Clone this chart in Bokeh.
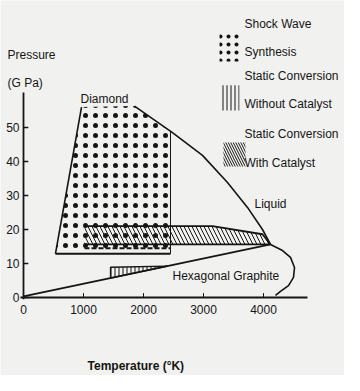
from bokeh.plotting import figure
from bokeh.models import Range1d
from bokeh.core.properties import value
from bokeh.embed import file_html
from bokeh.resources import INLINE

# ---------------- data (Temperature in K, Pressure in GPa) ----------------
temp_ticks = [0, 1000, 2000, 3000, 4000]
temp_tick_labels = ["0", "1000", "2000", "3000", "4000"]
pres_ticks = [0, 10, 20, 30, 40, 50]
pres_tick_labels = ["0", "10", "20", "30", "40", "50"]

# shock wave synthesis region (dotted)
shock_T = [533, 967, 1850, 2450, 2450]
shock_P = [12.9, 56.0, 56.3, 48.9, 12.9]

# static conversion with catalyst (diagonal hatch)
cat_T = [1017, 1017, 3150, 3983, 4117]
cat_P = [15.6, 21.0, 21.0, 18.6, 15.6]

# static conversion without catalyst (vertical hatch)
nocat_T = [1450, 1450, 2400]
nocat_P = [5.7, 8.9, 9.2]

# diamond / liquid boundary
dl_T = [1850, 2483, 2983, 3400, 3733, 3983, 4117]
dl_P = [56.3, 48.5, 41.8, 33.8, 26.5, 20.0, 15.6]

# graphite / diamond boundary
gd_T = [0, 4117]
gd_P = [0.3, 15.6]

# graphite / liquid boundary
gl_T = [4117, 4317, 4450, 4517, 4500, 4417, 4283, 4200]
gl_P = [15.6, 13.8, 11.8, 8.8, 5.9, 3.5, 1.8, 0.6]

legend_labels = ["Shock Wave", "Synthesis", "Static  Conversion",
                 "Without  Catalyst", "Static  Conversion", "With  Catalyst"]

# ---------------- layout constants ----------------
T_MIN, T_MAX = -383.3, 5350
P_MIN, P_MAX = -22.94, 87.35
X_AXIS_END = 4733
Y_AXIS_END = 60.3
INK = "#151515"
BG = "#f1f1ef"
FONT = value("Liberation Sans")

p = figure(width=344, height=375, x_range=Range1d(T_MIN, T_MAX),
           y_range=Range1d(P_MIN, P_MAX), output_backend="svg",
           toolbar_location=None, x_axis_type=None, y_axis_type=None,
           min_border=0)
p.outline_line_color = None
p.background_fill_color = BG
p.border_fill_color = BG

# ---------------- regions ----------------
p.patch(shock_T, shock_P, fill_alpha=0, line_alpha=0,
        hatch_pattern="dot", hatch_scale=10, hatch_color=INK, hatch_weight=1.5)
p.patch(cat_T, cat_P, fill_alpha=0, line_alpha=0,
        hatch_pattern="left_diagonal_line", hatch_scale=8, hatch_color=INK,
        hatch_weight=1)
p.patch(nocat_T, nocat_P, fill_alpha=0, line_color=INK, line_width=1.3,
        hatch_pattern="vertical_line", hatch_scale=4, hatch_color=INK,
        hatch_weight=1)

# outline of shock wave region (left, bottom, right)
p.line([shock_T[0], shock_T[1]], [shock_P[0], shock_P[1]], line_color=INK, line_width=1.6)
p.line([shock_T[0], shock_T[4]], [shock_P[0], shock_P[4]], line_color=INK, line_width=2)
p.line([shock_T[3], shock_T[4]], [shock_P[3], shock_P[4]], line_color=INK, line_width=1)

# outline of catalyst region
p.line(cat_T[1:], cat_P[1:], line_color=INK, line_width=1.8)
p.line([cat_T[0], cat_T[-1]], [cat_P[0], cat_P[-1]], line_color=INK, line_width=1.8)
p.line([cat_T[0], shock_T[3]], [cat_P[0] - 1.1, cat_P[0] - 1.1], line_color=INK,
       line_width=2, line_dash="5 2")

# phase boundaries
p.line(dl_T, dl_P, line_color=INK, line_width=1.6)
p.line(gd_T, gd_P, line_color=INK, line_width=1.8)
p.line(gl_T, gl_P, line_color=INK, line_width=1.6)

# ---------------- axes ----------------
p.line([-50, X_AXIS_END], [0, 0], line_color=INK, line_width=1.8)
p.line([0, 0], [-0.5, Y_AXIS_END], line_color=INK, line_width=1.8)
p.segment(x0=temp_ticks[1:], y0=[0] * 4, x1=temp_ticks[1:], y1=[1.3] * 4,
          line_color=INK, line_width=1)
p.segment(x0=[0] * 6, y0=pres_ticks, x1=[80] * 6, y1=pres_ticks,
          line_color=INK, line_width=1.5)
p.text(x=temp_ticks, y=[-3.5] * 5, text=temp_tick_labels, text_font=FONT,
       text_font_size="12px", text_color=INK, text_align="center",
       text_baseline="middle")
p.text(x=[-67] * 6, y=pres_ticks, text=pres_tick_labels, text_font=FONT,
       text_font_size="12px", text_color=INK, text_align="right",
       text_baseline="middle")

# axis titles and region labels
p.text(x=[-267, -267], y=[71.2, 63.2], text=["Pressure", "(G Pa)"], text_font=FONT,
       text_font_size="12px", text_color=INK, text_baseline="middle")
p.text(x=[1067], y=[-20], text=["Temperature  (°K)"], text_font=FONT,
       text_font_size="12px", text_font_style="bold", text_color=INK,
       text_baseline="middle")
p.text(x=[950, 3850, 2483], y=[58.5, 27.4, 6.2],
       text=["Diamond", "Liquid", "Hexagonal  Graphite"], text_font=FONT,
       text_font_size="12px", text_color=INK, text_baseline="middle")

# ---------------- legend ----------------
p.text(x=[3683] * 6, y=[80.3, 72.1, 65.0, 56.8, 48.2, 39.7], text=legend_labels,
       text_font=FONT, text_font_size="12px", text_color=INK,
       text_baseline="middle")
p.quad(left=[3267], right=[3633], top=[78.2], bottom=[69.4], fill_alpha=0,
       line_alpha=0, hatch_pattern="dot", hatch_scale=8, hatch_color=INK,
       hatch_weight=1.5)
p.quad(left=[3300], right=[3600], top=[62.4], bottom=[55.0], fill_alpha=0,
       line_alpha=0, hatch_pattern="vertical_line", hatch_scale=4,
       hatch_color=INK, hatch_weight=1)
p.quad(left=[3333], right=[3700], top=[45.6], bottom=[38.5], fill_alpha=0,
       line_alpha=0, hatch_pattern="left_diagonal_line", hatch_scale=5,
       hatch_color=INK, hatch_weight=1)

open("out.html", "w").write(file_html(p, INLINE))
